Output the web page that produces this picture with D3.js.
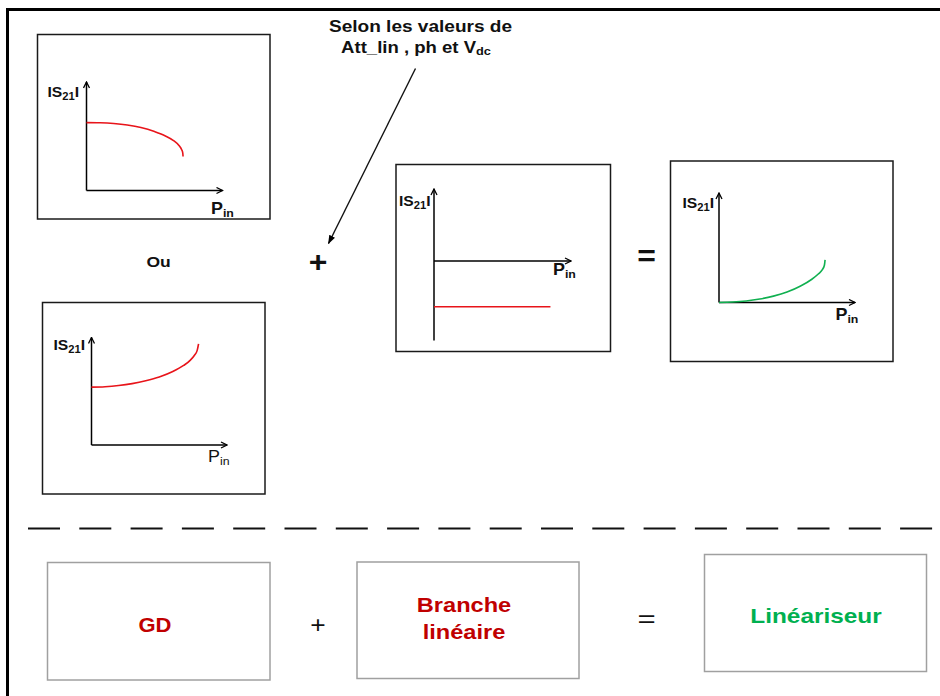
<!DOCTYPE html>
<html>
<head>
<meta charset="utf-8">
<script src="https://cdn.jsdelivr.net/npm/d3@7"></script>
<style>
  html, body { margin: 0; padding: 0; background: #fff; }
  svg { display: block; }
  text { font-family: "Liberation Sans", Arial, sans-serif; }
</style>
</head>
<body>
<svg id="chart" width="940" height="696"></svg>
<script>
// ---------------- DATA ----------------
// Normalized |S21| vs Pin sketches (x: Pin fraction of axis, y: |S21| fraction of axis)
const gdCompression = [[0,0.626],[0.1,0.624],[0.2,0.617],[0.3,0.603],[0.4,0.58],[0.5,0.543],[0.58,0.503],[0.64,0.46],[0.68,0.415],[0.7,0.375],[0.708,0.345],[0.71,0.313]];
const gdExpansion   = [[0,0.538],[0.1,0.542],[0.2,0.553],[0.3,0.571],[0.4,0.597],[0.5,0.632],[0.6,0.683],[0.68,0.74],[0.73,0.79],[0.76,0.835],[0.78,0.88],[0.79,0.94]];
const linearBranch  = [[0,-0.635],[0.85,-0.635]];
const linearizer    = [[0,0],[0.1,0.004],[0.2,0.014],[0.3,0.032],[0.4,0.058],[0.5,0.095],[0.6,0.15],[0.68,0.21],[0.73,0.26],[0.76,0.30],[0.775,0.34],[0.78,0.39]];

const yLabel = ["IS", "21", "I"];
const xLabel = ["P", "in"];
const annotationLines = ["Selon les valeurs de", "Att_lin , ph et V"];
const annotationSub = "dc";
const bottomLabels = [["GD"], ["Branche", "linéaire"], ["Linéariseur"]];
const operators = ["+", "="];
const orWord = "Ou";

// ---------------- LAYOUT ----------------
const panels = [
  { box:[37.5,34.5,232.5,184.5], ox:86.5, oy:190.5, xLen:136, yUp:108.5, yDown:0, data:gdCompression, color:"#e8141a", ylab:[47.5,97], xlab:[211,213.5], xBold:true },
  { box:[42.5,302.5,222.5,191.5], ox:91.5, oy:445, xLen:135.5, yUp:107.5, yDown:0, data:gdExpansion, color:"#e8141a", ylab:[53.5,350], xlab:[208,462], xBold:false },
  { box:[396,164.5,214.5,187], ox:434, oy:261, xLen:137, yUp:72, yDown:79.5, data:linearBranch, color:"#e8141a", ylab:[399,206], xlab:[553,275], xBold:true },
  { box:[670.5,161,222.5,200.5], ox:719, oy:302.5, xLen:136, yUp:109.5, yDown:0, data:linearizer, color:"#10b050", ylab:[682.5,208], xlab:[835.5,320], xBold:true }
];

const svg = d3.select("#chart");

// text helper: horizontally stretched text anchored at (x,y)
function label(x, y, sx, attrs) {
  const g = svg.append("g").attr("transform", `translate(${x},${y}) scale(${sx},1)`);
  const t = g.append("text").attr("x",0).attr("y",0);
  Object.entries(attrs).forEach(([k,v]) => t.attr(k,v));
  return t;
}

// arrow markers
const defs = svg.append("defs");
defs.append("marker").attr("id","openArrow").attr("viewBox","0 0 8 8")
  .attr("refX",7).attr("refY",4).attr("markerWidth",8).attr("markerHeight",8)
  .attr("markerUnits","userSpaceOnUse").attr("orient","auto")
  .append("path").attr("d","M1,1 L7,4 L1,7").attr("fill","none").attr("stroke","#000").attr("stroke-width",1.3);
defs.append("marker").attr("id","solidArrow").attr("viewBox","0 0 10 10")
  .attr("refX",9).attr("refY",5).attr("markerWidth",9).attr("markerHeight",9)
  .attr("markerUnits","userSpaceOnUse").attr("orient","auto")
  .append("path").attr("d","M0,1.5 L10,5 L0,8.5 Z").attr("fill","#000");

// outer frame (left + top)
svg.append("path").attr("d","M7.5,696 V9.5 H940").attr("fill","none").attr("stroke","#000").attr("stroke-width",3);

// mini charts
panels.forEach(p => {
  const g = svg.append("g");
  g.append("rect").attr("x",p.box[0]).attr("y",p.box[1]).attr("width",p.box[2]).attr("height",p.box[3])
    .attr("fill","none").attr("stroke","#1a1a1a").attr("stroke-width",1.5);

  const x = d3.scaleLinear().domain([0,1]).range([p.ox, p.ox + p.xLen]);
  const yTop = 1, yBot = -(p.yDown / p.yUp);
  const y = d3.scaleLinear().domain([yBot, yTop]).range([p.oy + p.yDown, p.oy - p.yUp]);

  g.append("line").attr("x1",x(0)).attr("x2",x(0)).attr("y1",y(yBot)).attr("y2",y(yTop))
    .attr("stroke","#000").attr("stroke-width",1.5).attr("marker-end","url(#openArrow)");
  g.append("line").attr("x1",x(0)).attr("x2",x(1)).attr("y1",y(0)).attr("y2",y(0))
    .attr("stroke","#000").attr("stroke-width",1.5).attr("marker-end","url(#openArrow)");

  g.append("path").datum(p.data)
    .attr("d", d3.line().x(d => x(d[0])).y(d => y(d[1])).curve(d3.curveMonotoneX))
    .attr("fill","none").attr("stroke",p.color).attr("stroke-width",1.6);

  const yl = label(p.ylab[0], p.ylab[1], 1.12, {"font-weight":"bold","font-size":14,"fill":"#111"});
  yl.append("tspan").text(yLabel[0]);
  yl.append("tspan").attr("dy",3).attr("font-size",10).text(yLabel[1]);
  yl.append("tspan").attr("dy",-3).text(yLabel[2]);

  const xl = label(p.xlab[0], p.xlab[1], 1.12, {"font-weight":p.xBold ? "bold" : "normal","font-size":16,"fill":"#111"});
  xl.append("tspan").text(xLabel[0]);
  xl.append("tspan").attr("dy",3).attr("font-size",11).text(xLabel[1]);
});

// annotation
label(420.5, 32, 1.19, {"font-weight":"bold","font-size":16,"fill":"#111","text-anchor":"middle"}).text(annotationLines[0]);
const a2 = label(416, 53, 1.16, {"font-weight":"bold","font-size":16,"fill":"#111","text-anchor":"middle"});
a2.append("tspan").text(annotationLines[1]);
a2.append("tspan").attr("dy",2).attr("font-size",11).text(annotationSub);
svg.append("line").attr("x1",415.5).attr("y1",68.5).attr("x2",328.5).attr("y2",243.5)
  .attr("stroke","#111").attr("stroke-width",1.4).attr("marker-end","url(#solidArrow)");

// top row operators
label(146.5, 266.5, 1.25, {"font-weight":"bold","font-size":14,"fill":"#111"}).text(orWord);
label(318, 272, 1.1, {"font-weight":"bold","font-size":29,"fill":"#111","text-anchor":"middle"}).text(operators[0]);
label(646.5, 266, 1.1, {"font-weight":"bold","font-size":29,"fill":"#111","text-anchor":"middle"}).text(operators[1]);

// dashed separator
svg.append("line").attr("x1",28).attr("x2",940).attr("y1",528.5).attr("y2",528.5)
  .attr("stroke","#111").attr("stroke-width",2).attr("stroke-dasharray","32,19.3");

// bottom boxes
const bottomBoxes = [
  { r:[47.5,562.5,222.5,117.5], color:"#c00000", cx:155, y0:632, sx:1.1 },
  { r:[357,562,222,116.5], color:"#c00000", cx:464, y0:612, sx:1.18 },
  { r:[704.5,554.5,222,117], color:"#00b050", cx:816, y0:623, sx:1.22 }
];
bottomBoxes.forEach((b,i) => {
  svg.append("rect").attr("x",b.r[0]).attr("y",b.r[1]).attr("width",b.r[2]).attr("height",b.r[3])
    .attr("fill","none").attr("stroke","#a0a0a0").attr("stroke-width",1.5);
  bottomLabels[i].forEach((line,j) => {
    label(b.cx, b.y0 + j*26.5, b.sx, {"text-anchor":"middle","font-weight":"bold","font-size":20,"fill":b.color}).text(line);
  });
});
label(318, 633, 1.1, {"text-anchor":"middle","font-size":24,"fill":"#111"}).text(operators[0]);
label(646.5, 627, 1.3, {"text-anchor":"middle","font-size":24,"fill":"#111"}).text(operators[1]);
</script>
</body>
</html>
